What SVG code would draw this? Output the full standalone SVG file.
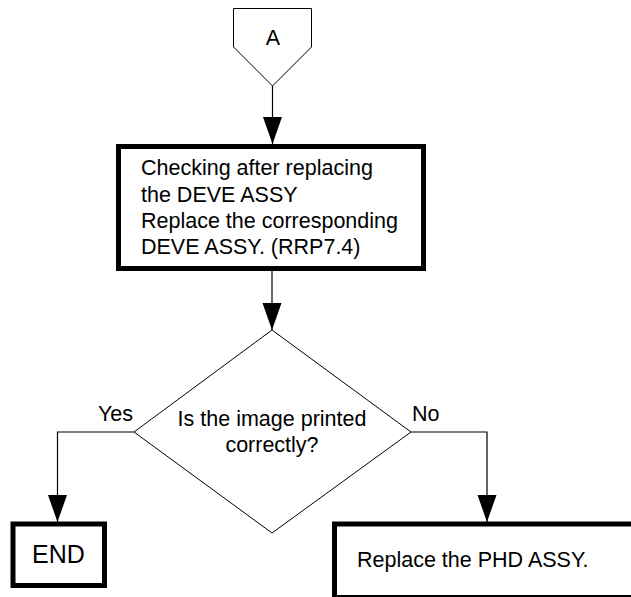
<svg xmlns="http://www.w3.org/2000/svg" width="631" height="597" viewBox="0 0 631 597">
<defs>
<style>
text{font-family:"Liberation Sans",Arial,sans-serif;font-size:21.5px;fill:#000}
.thin{fill:#fff;stroke:#000;stroke-width:1}
.thick{fill:#fff;stroke:#000;stroke-width:5}
.conn{fill:none;stroke:#000;stroke-width:1.2}
</style>
<marker id="arr" markerUnits="userSpaceOnUse" markerWidth="27" markerHeight="20" refX="27" refY="9.5" orient="auto">
<path d="M0,0 L27,9.5 L0,19 z" fill="#000"/>
</marker>
</defs>
<g id="connectors">
<path class="conn" d="M272.5,86 V144" marker-end="url(#arr)"/>
<path class="conn" d="M272,271 V330" marker-end="url(#arr)"/>
<path class="conn" d="M134,432 H57.5 V522" marker-end="url(#arr)"/>
<path class="conn" d="M411,432 H487 V522" marker-end="url(#arr)"/>
</g>
<g id="nodeA">
<path class="thin" d="M233.5,8.5 H311.5 V47 L272.5,86 L233.5,47 Z"/>
<text x="273" y="45" text-anchor="middle">A</text>
</g>
<g id="check">
<rect class="thick" x="118.5" y="146.5" width="305" height="122"/>
<text x="141" y="175">Checking after replacing</text>
<text x="141" y="202">the DEVE ASSY</text>
<text x="141" y="228">Replace the corresponding</text>
<text x="141" y="254">DEVE ASSY. (RRP7.4)</text>
</g>
<g id="decision">
<path class="thin" d="M272,330 L411,432 L272,533 L134,432 Z"/>
<text x="272" y="426" text-anchor="middle">Is the image printed</text>
<text x="272" y="452" text-anchor="middle">correctly?</text>
</g>
<g id="labels">
<text x="98" y="421">Yes</text>
<text x="412" y="421">No</text>
</g>
<g id="end">
<rect class="thick" x="13" y="524" width="91.5" height="61.5"/>
<text x="58.5" y="563" text-anchor="middle" style="font-size:25px">END</text>
</g>
<g id="phd">
<rect class="thick" x="334.5" y="524" width="320" height="73.5"/>
<text x="357" y="567">Replace the PHD ASSY.</text>
</g>
</svg>
